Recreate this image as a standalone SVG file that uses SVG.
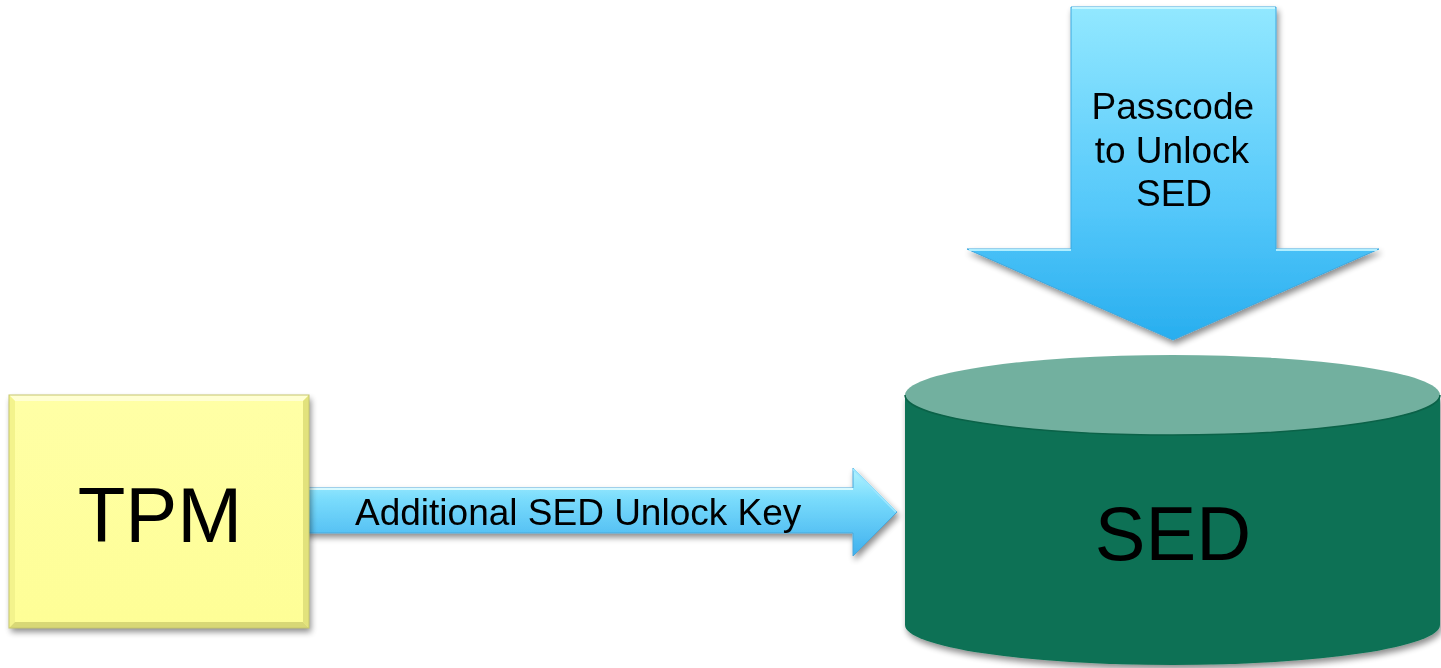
<svg xmlns="http://www.w3.org/2000/svg" width="1441" height="668" viewBox="0 0 1441 668">
  <style>
    .lbl { font-family: "Liberation Sans", Arial, sans-serif; fill: #000; }
  </style>
  <defs>
    <filter id="shadow" x="-10%" y="-10%" width="130%" height="130%">
      <feGaussianBlur in="SourceAlpha" stdDeviation="3"/>
      <feOffset dx="2" dy="4" result="b"/>
      <feComponentTransfer><feFuncA type="linear" slope="0.45"/></feComponentTransfer>
      <feMerge><feMergeNode/><feMergeNode in="SourceGraphic"/></feMerge>
    </filter>
    <linearGradient id="hArrow" x1="0" y1="0" x2="0" y2="1">
      <stop offset="0" stop-color="#B4F4FF"/>
      <stop offset="0.35" stop-color="#7ADCFC"/>
      <stop offset="1" stop-color="#3FB0EE"/>
    </linearGradient>
    <linearGradient id="vArrow" x1="0" y1="0" x2="0" y2="1">
      <stop offset="0" stop-color="#92E8FF"/>
      <stop offset="0.6" stop-color="#55C8FA"/>
      <stop offset="1" stop-color="#28AEEF"/>
    </linearGradient>
    <linearGradient id="yellow" x1="0" y1="0" x2="0" y2="1">
      <stop offset="0" stop-color="#FFFFA6"/>
      <stop offset="1" stop-color="#FEFE96"/>
    </linearGradient>
  </defs>

  <!-- connectors -->
  <g id="connectors">
    <g id="key-arrow" filter="url(#shadow)">
      <path d="M305,488 L853,488 L853,468 L897,512 L853,556 L853,533 L305,533 Z" fill="url(#hArrow)" stroke="#4AA8DA" stroke-width="1"/>
      <path d="M305,489 L853,489" stroke="#D8FAFF" stroke-width="2"/>
      <path d="M853,469 L896,512" stroke="#9BE6FF" stroke-width="2"/>
      <text class="lbl" x="355" y="525" font-size="37">Additional SED Unlock Key</text>
    </g>
    <g id="passcode-arrow" filter="url(#shadow)">
      <path d="M1071,7 L1276,7 L1276,249 L1379,249 L1173,340 L967,249 L1071,249 Z" fill="url(#vArrow)" stroke="#3FA8DE" stroke-width="1"/>
      <path d="M1072,8 L1275,8" stroke="#C6F6FF" stroke-width="2"/>
      <path d="M969,250 L1071,250 M1276,250 L1377,250" stroke="#B0EEFF" stroke-width="2"/>
      <text class="lbl" font-size="37" text-anchor="middle">
        <tspan x="1178" y="119">Passcode</tspan>
        <tspan x="1177" y="163">to Unlock</tspan>
        <tspan x="1174" y="206">SED</tspan>
      </text>
    </g>
  </g>

  <!-- TPM node -->
  <g id="tpm">
    <g filter="url(#shadow)">
      <rect x="9" y="395" width="300" height="233" fill="url(#yellow)"/>
    </g>
    <!-- bevelled rim -->
    <polygon points="9,395 309,395 303,401 15,401" fill="#FFFFD2"/>
    <polygon points="9,395 15,401 15,622 9,628" fill="#F3F38C"/>
    <polygon points="309,395 309,628 303,622 303,401" fill="#E2E27C"/>
    <polygon points="9,628 309,628 303,622 15,622" fill="#D8D876"/>
    <rect x="9" y="395" width="300" height="233" fill="none" stroke="#C8C86E" stroke-width="1"/>
    <text class="lbl" x="160" y="542" font-size="78" text-anchor="middle">TPM</text>
  </g>

  <!-- SED node -->
  <g id="sed">
    <g filter="url(#shadow)">
      <path d="M905,395 L905,625 A267.5,40 0 0 0 1440,625 L1440,395 Z" fill="#0E7154"/>
    </g>
    <ellipse cx="1172.5" cy="395" rx="267.5" ry="40" fill="#72B09F"/>
    <path d="M905,395 A267.5,40 0 0 0 1440,395" fill="none" stroke="#0B6248" stroke-width="1.5"/>
    <text class="lbl" x="1173" y="560" font-size="76" text-anchor="middle">SED</text>
  </g>
</svg>
